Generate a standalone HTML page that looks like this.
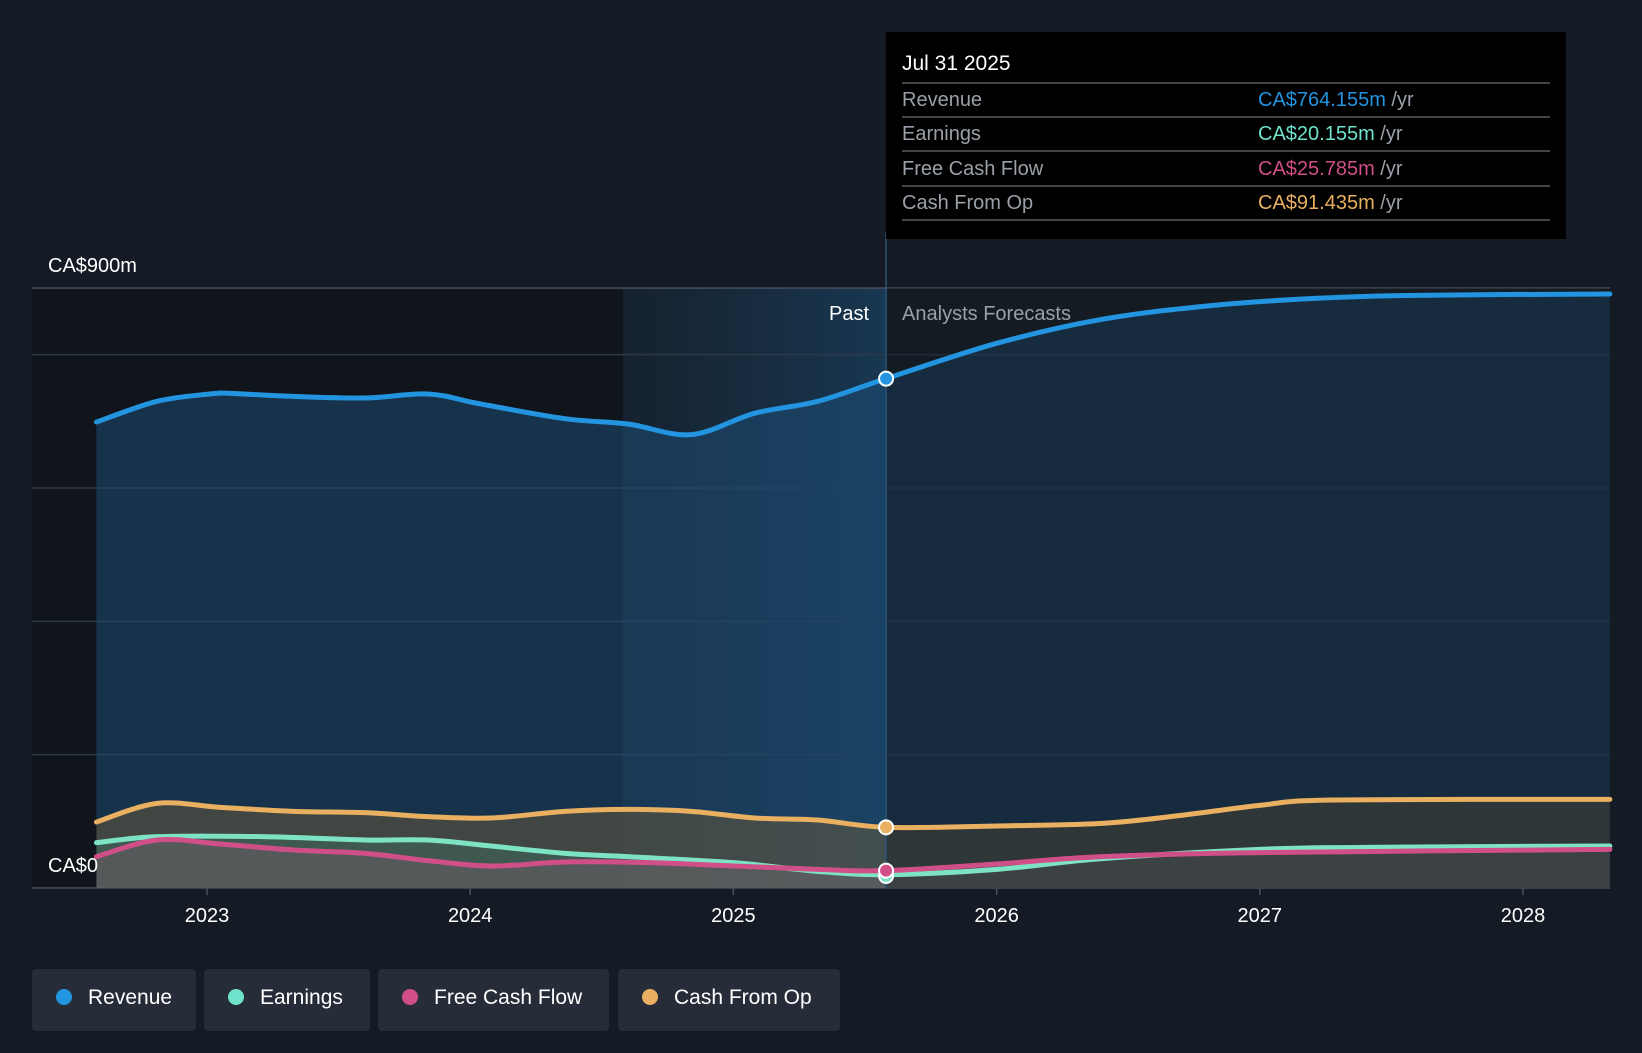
<!DOCTYPE html>
<html><head><meta charset="utf-8">
<style>
html,body{margin:0;padding:0;background:#151b24;}
body{width:1642px;height:1048px;overflow:hidden;font-family:"Liberation Sans",sans-serif;}
svg text{font-family:"Liberation Sans",sans-serif;}
</style></head>
<body>
<svg id="chart" width="1642" height="1048" viewBox="0 0 1642 1048" xmlns="http://www.w3.org/2000/svg">
<defs>
<linearGradient id="pastGrad" x1="0" x2="1" y1="0" y2="0">
<stop offset="0" stop-color="#1b4a70" stop-opacity="0.15"/>
<stop offset="1" stop-color="#1b5a8a" stop-opacity="0.45"/>
</linearGradient>
</defs>
<rect x="0" y="0" width="1642" height="1048" fill="#151b24"/>
<g id="layer"></g>
</svg>
<script>
const years=[2022.58,2022.81,2023.01,2023.09,2023.29,2023.6,2023.84,2024.04,2024.36,2024.6,2024.84,2025.08,2025.32,2025.58,2026.0,2026.4,2026.8,2027.19,2027.59,2028.33];
const revenue=[699,730,741,742,738,735,741,726,704,696,680,712,730,764,817,853,873,884,889,891];
const cfoDates=[2022.58,2022.81,2023.05,2023.33,2023.6,2023.84,2024.08,2024.36,2024.6,2024.84,2025.08,2025.32,2025.58,2026.0,2026.4,2026.68,2027.0,2027.28,2028.33];
const cashFromOp=[99,127,121,115,113,107,105,115,118,115,105,102,91,93,97,108,124,132,133];
const earnDates=[2022.58,2022.81,2023.21,2023.6,2023.84,2024.08,2024.36,2024.6,2025.0,2025.32,2025.58,2026.0,2026.4,2027.0,2027.4,2028.33];
const earnings=[68,77,77,72,72,63,52,47,38,25,20,28,44,58,61,63];
const fcfDates=[2022.58,2022.81,2023.05,2023.33,2023.6,2023.84,2024.08,2024.36,2024.68,2025.0,2025.32,2025.58,2026.0,2026.4,2027.0,2028.33];
const fcf=[47,72,66,57,52,41,33,39,38,33,28,26,36,47,53,58];
const yTicks=[0,200,400,600,800,900];
const xTicks=[2023,2024,2025,2026,2027,2028];

const NS="http://www.w3.org/2000/svg";
const L=document.getElementById('layer');
const X0=32,X1=1610,Y0=888,Y900=288;
const xs=t=>207+(t-2023)*263.2;
const ys=v=>Y0-(v/900)*(Y0-Y900);
const pastX=xs(2025.58), shadeX=xs(2024.58);
function el(tag,attrs,parent){const e=document.createElementNS(NS,tag);for(const k in attrs)e.setAttribute(k,attrs[k]);(parent||L).appendChild(e);return e;}
function pathD(ds,vs){
  const p=ds.map((d,i)=>[xs(d),ys(vs[i])]);
  let s=`M${p[0][0]},${p[0][1]}`;
  for(let i=0;i<p.length-1;i++){
    const p0=p[i-1]||p[i],p1=p[i],p2=p[i+1],p3=p[i+2]||p2;
    const c1x=p1[0]+(p2[0]-p0[0])/6,c1y=p1[1]+(p2[1]-p0[1])/6;
    const c2x=p2[0]-(p3[0]-p1[0])/6,c2y=p2[1]-(p3[1]-p1[1])/6;
    s+=` C${c1x},${c1y} ${c2x},${c2y} ${p2[0]},${p2[1]}`;
  }
  return s;
}
let r=el('rect',{x:X0,y:Y900,width:shadeX-X0,height:Y0-Y900,fill:'#10141b'});


r=el('rect',{x:shadeX,y:Y900,width:pastX-shadeX,height:Y0-Y900,fill:'url(#pastGrad)'});


yTicks.forEach(v=>{
  const g=el('line',{x1:X0,x2:X1,y1:ys(v),y2:ys(v),stroke:v===900||v===0?'#4a515c':'#2e3846','stroke-width':1.5});
  
  
});
const series=[
 {n:'revenue',d:years,v:revenue,c:'#2394df',fill:'#1d4d75',fo:0.55},
 {n:'cash-from-op',d:cfoDates,v:cashFromOp,c:'#e8b060',fill:'#6b5a3a',fo:0.5},
 {n:'earnings',d:earnDates,v:earnings,c:'#7de3c4',fill:'#3d6b5e',fo:0.5},
 {n:'free-cash-flow',d:fcfDates,v:fcf,c:'#d14f88',fill:'#7a5a6a',fo:0.4}
];
series.forEach(s=>{
  const d=pathD(s.d,s.v);
  const a=el('path',{d:d+` L${xs(s.d[s.d.length-1])},${Y0} L${xs(s.d[0])},${Y0} Z`,fill:s.fill,'fill-opacity':s.fo});
  
  
});
let ov=el('rect',{x:pastX,y:Y900,width:X1-pastX,height:Y0-Y900,fill:'#151b24','fill-opacity':0.4});


series.forEach(s=>{
  const p=el('path',{d:pathD(s.d,s.v),fill:'none',stroke:s.c,'stroke-width':5,'stroke-linecap':'round'});
  
  
});
let dv=el('line',{x1:pastX,x2:pastX,y1:232,y2:Y0,stroke:'#2a5578','stroke-width':1.5});


[['revenue-marker',764,'#2394df'],['cash-from-op-marker',91,'#e8b060'],['earnings-marker',18,'#7de3c4'],['free-cash-flow-marker',26,'#d14f88']].forEach(m=>{
  const c=el('circle',{cx:pastX,cy:ys(m[1]),r:7,fill:m[2],stroke:'#fff','stroke-width':2});
  
  
});
let t=el('text',{x:48,y:272,fill:'#fff','font-size':20});t.textContent='CA$900m';


t=el('text',{x:48,y:872,fill:'#fff','font-size':20});t.textContent='CA$0';


xTicks.forEach(y=>{
  const tk=el('line',{x1:xs(y),x2:xs(y),y1:Y0,y2:Y0+7,stroke:'#4a515c','stroke-width':1.5});
  
  
  const tx=el('text',{x:xs(y),y:922,fill:'#fff','font-size':20,'text-anchor':'middle'});tx.textContent=y;
  
  
});
t=el('text',{x:pastX-17,y:320,fill:'#fff','font-size':20,'text-anchor':'end'});t.textContent='Past';


t=el('text',{x:pastX+16,y:320,fill:'#9aa0a8','font-size':20});t.textContent='Analysts Forecasts';


const tg=el('g',{});


el('rect',{x:886,y:32,width:680,height:207,fill:'#000'},tg);
let tt=el('text',{x:902,y:70,fill:'#fff','font-size':21},tg);tt.textContent='Jul 31 2025';
const rows=[['Revenue','CA$764.155m','#2394df'],['Earnings','CA$20.155m','#6fe3cc'],['Free Cash Flow','CA$25.785m','#d14f88'],['Cash From Op','CA$91.435m','#e8b060']];
const rowY=[106,140,175,209];
el('line',{x1:902,x2:1550,y1:83,y2:83,stroke:'#444','stroke-width':2},tg);
rows.forEach((rw,i)=>{
  const a=el('text',{x:902,y:rowY[i],fill:'#9aa0a8','font-size':20},tg);a.textContent=rw[0];
  
  const b=el('text',{x:1258,y:rowY[i],fill:rw[2],'font-size':20},tg);b.textContent=rw[1];
  const tsp=el('tspan',{fill:'#9aa0a8'},b);tsp.textContent=' /yr';
  
  el('line',{x1:902,x2:1550,y1:rowY[i]+11,y2:rowY[i]+11,stroke:'#444','stroke-width':2},tg);
});
const leg=[['Revenue','#2394df',32,164],['Earnings','#6fe3cc',204,166],['Free Cash Flow','#d14f88',378,231],['Cash From Op','#e8b060',618,222]];
leg.forEach(l=>{
  const g=el('g',{});
  
  
  el('rect',{x:l[2],y:969,width:l[3],height:62,rx:4,fill:'#262d38'},g);
  el('circle',{cx:l[2]+32,cy:997,r:8,fill:l[1]},g);
  const x=el('text',{x:l[2]+56,y:1004,fill:'#fff','font-size':21},g);x.textContent=l[0];
});
</script>
</body></html>
